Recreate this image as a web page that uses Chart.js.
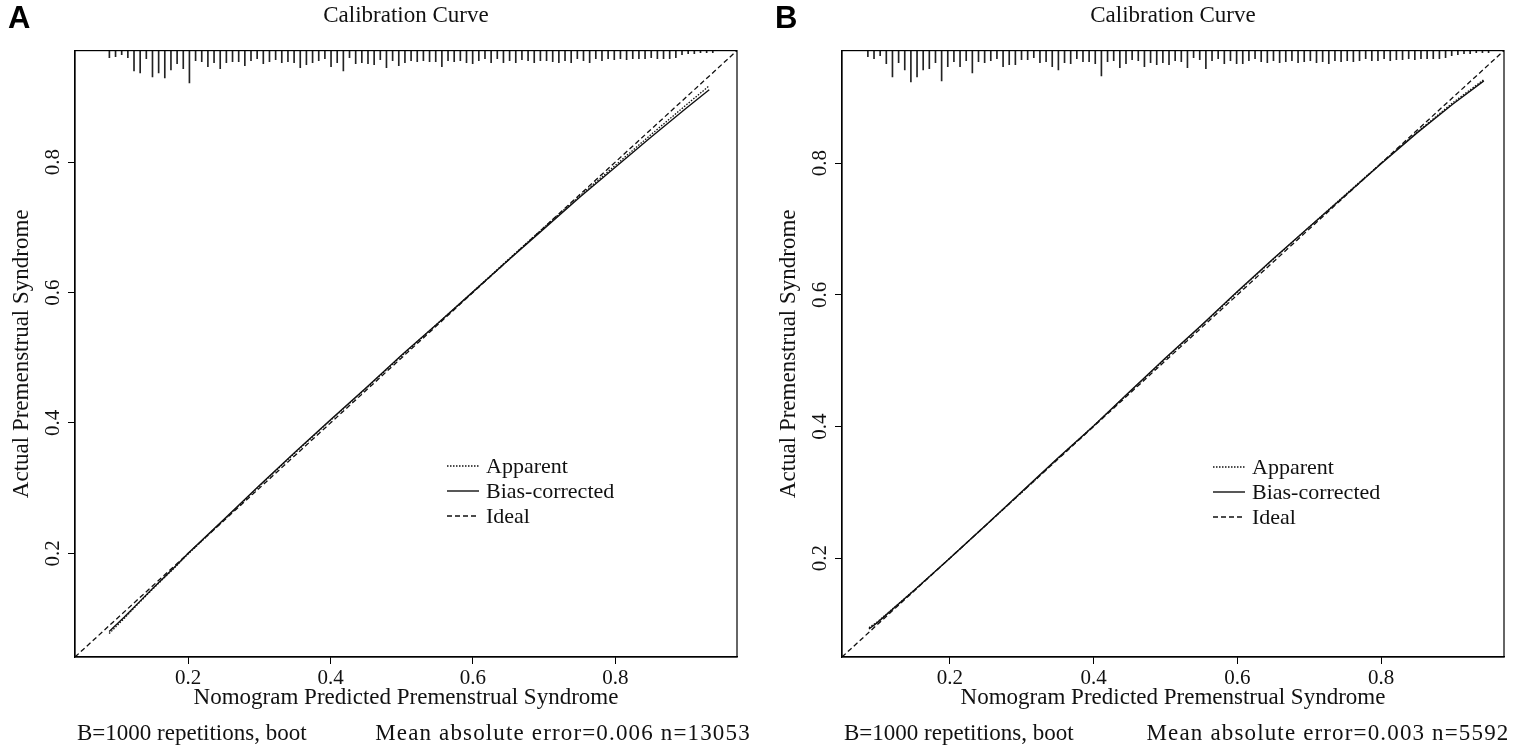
<!DOCTYPE html>
<html>
<head>
<meta charset="utf-8">
<title>Calibration Curve</title>
<script src="https://cdn.jsdelivr.net/npm/chart.js@4.4.1/dist/chart.umd.min.js"></script>
<style>
  body { margin: 0; background: #fff; }
  .row { display: flex; width: 1535px; height: 752px; }
  .panel { position: relative; width: 767px; height: 752px; flex: none; }
  .panel canvas { position: absolute; left: 0; top: 0; }
  .tag { position: absolute; left: 8px; top: 2px; font: bold 31px "Liberation Sans", Arial, sans-serif; line-height: 1; color: #000; }
  .sub { position: absolute; top: 721px; font: 23px "Liberation Serif", serif; line-height: 1; white-space: nowrap; color: #111; }
  .sub.mae { letter-spacing: 1.15px; transform: translateX(-50%); }
  .legend { position: absolute; font: 22px "Liberation Serif", serif; color: #111; }
  .legend div { display: flex; align-items: center; height: 25px; line-height: 25px; }
  .legend svg { width: 32px; height: 4px; margin-right: 7px; }
</style>
</head>
<body>
<div class="row">
  <div class="panel">
    <canvas id="chartA" width="767" height="752"></canvas>
    <div class="tag">A</div>
    <div class="legend" style="left:447px; top:453px">
      <div><svg><line x1="0" y1="2" x2="32" y2="2" stroke="#111" stroke-width="1.3" stroke-dasharray="1.5 1.5"/></svg>Apparent</div>
      <div><svg><line x1="0" y1="2" x2="32" y2="2" stroke="#111" stroke-width="1.4"/></svg>Bias-corrected</div>
      <div><svg><line x1="0" y1="2" x2="32" y2="2" stroke="#111" stroke-width="1.3" stroke-dasharray="5 3"/></svg>Ideal</div>
    </div>
    <div class="sub" style="left:77px">B=1000 repetitions, boot</div>
    <div class="sub mae" style="left:563px">Mean absolute error=0.006 n=13053</div>
  </div>
  <div class="panel">
    <canvas id="chartB" width="767" height="752"></canvas>
    <div class="tag">B</div>
    <div class="legend" style="left:446px; top:454px">
      <div><svg><line x1="0" y1="2" x2="32" y2="2" stroke="#111" stroke-width="1.3" stroke-dasharray="1.5 1.5"/></svg>Apparent</div>
      <div><svg><line x1="0" y1="2" x2="32" y2="2" stroke="#111" stroke-width="1.4"/></svg>Bias-corrected</div>
      <div><svg><line x1="0" y1="2" x2="32" y2="2" stroke="#111" stroke-width="1.3" stroke-dasharray="5 3"/></svg>Ideal</div>
    </div>
    <div class="sub" style="left:77px">B=1000 repetitions, boot</div>
    <div class="sub mae" style="left:561px">Mean absolute error=0.003 n=5592</div>
  </div>
</div>

<script>
// axis ticks and ranges (same range on x and y, ideal line runs corner to corner)
const xTicks = [0.2, 0.4, 0.6, 0.8];
const yTicks = [0.2, 0.4, 0.6, 0.8];
const rangeA = [0.041, 0.971];
const rangeB = [0.050, 0.971];

// panel A curves
const predA     = [0.089, 0.11, 0.13, 0.15, 0.18, 0.20, 0.25, 0.30, 0.35, 0.40, 0.45, 0.50, 0.55, 0.60, 0.65, 0.70, 0.75, 0.80, 0.85, 0.90, 0.932];
const apparentA = [0.077, 0.100, 0.123, 0.145, 0.177, 0.199, 0.251, 0.303, 0.354, 0.404, 0.453, 0.503, 0.552, 0.601, 0.651, 0.700, 0.748, 0.795, 0.842, 0.888, 0.917];
const biasA     = [0.080, 0.102, 0.124, 0.146, 0.178, 0.200, 0.252, 0.304, 0.355, 0.405, 0.454, 0.504, 0.552, 0.601, 0.650, 0.698, 0.746, 0.792, 0.838, 0.883, 0.911];

// panel B curves
const predB     = [0.0875, 0.10, 0.15, 0.20, 0.25, 0.30, 0.35, 0.40, 0.45, 0.50, 0.55, 0.60, 0.65, 0.70, 0.75, 0.80, 0.85, 0.90, 0.943];
const apparentB = [0.0945, 0.104, 0.151, 0.200, 0.250, 0.300, 0.351, 0.401, 0.452, 0.503, 0.553, 0.604, 0.654, 0.703, 0.752, 0.800, 0.847, 0.892, 0.927];
const biasB     = [0.0925, 0.103, 0.151, 0.200, 0.250, 0.301, 0.352, 0.401, 0.453, 0.504, 0.554, 0.605, 0.655, 0.703, 0.751, 0.799, 0.846, 0.890, 0.925];

// rug of predicted values along the top (spike height per bin)
const rugStartA = 0.0893, rugBinA = 0.00865;
const rugA = [7, 6, 4, 7, 20, 22, 8, 26, 22, 27, 19, 13, 18, 32, 10, 11, 16, 12, 18, 12,
  11, 11, 15, 10, 8, 13, 11, 9, 12, 11, 12, 17, 14, 12, 10, 8, 16, 12, 20, 7,
  13, 12, 13, 14, 9, 17, 10, 15, 12, 10, 11, 10, 11, 11, 16, 10, 11, 10, 12, 13,
  10, 8, 12, 8, 12, 10, 12, 9, 10, 12, 10, 10, 11, 12, 10, 12, 8, 10, 12, 8,
  10, 8, 9, 8, 9, 8, 8, 8, 7, 8, 8, 8, 7, 4, 3, 3, 2, 2, 2];
const rugStartB = 0.086, rugBinB = 0.00855;
const rugB = [6, 8, 5, 13, 26, 12, 19, 31, 26, 19, 18, 12, 30, 16, 11, 16, 10, 22, 11, 12,
  10, 8, 16, 14, 14, 9, 9, 7, 12, 11, 16, 19, 12, 13, 8, 11, 11, 13, 25, 11,
  10, 17, 13, 9, 10, 16, 12, 14, 12, 14, 10, 11, 17, 7, 9, 18, 10, 8, 13, 10,
  13, 13, 10, 8, 11, 12, 10, 12, 11, 10, 12, 11, 10, 12, 11, 13, 10, 11, 10, 11,
  10, 8, 10, 10, 8, 10, 9, 9, 8, 9, 8, 8, 8, 8, 7, 5, 4, 3, 3, 2, 2, 2];

Chart.defaults.font.family = '"Liberation Serif", "Times New Roman", serif';
Chart.defaults.color = '#111';

const tickFont = { size: 21 };
const labFont = { size: 23 };

// box round the plot region, like R's box()
const frame = {
  id: 'frame',
  afterDatasetsDraw(chart) {
    const { ctx, chartArea: a } = chart;
    ctx.save();
    ctx.strokeStyle = '#000';
    ctx.lineWidth = 1.2;
    ctx.strokeRect(a.left, a.top, a.right - a.left, a.bottom - a.top);
    ctx.restore();
  }
};

function pts(xs, ys) {
  return xs.map((x, i) => ({ x: x, y: ys[i] }));
}

function makePanel(id, range, pred, apparent, bias, rugStart, rugBin, rug) {
  const rugPts = rug.map((h, i) => ({ x: rugStart + i * rugBin, y: h }));
  new Chart(document.getElementById(id), {
    type: 'scatter',
    data: {
      datasets: [
        { type: 'bar', label: 'rug', data: rugPts, yAxisID: 'yRug',
          backgroundColor: '#222', barThickness: 1, borderWidth: 0 },
        { label: 'Apparent', data: pts(pred, apparent), showLine: true,
          borderColor: '#111', borderWidth: 1.3, borderDash: [1.5, 1.5], pointRadius: 0 },
        { label: 'Bias-corrected', data: pts(pred, bias), showLine: true,
          borderColor: '#111', borderWidth: 1.4, pointRadius: 0 },
        { label: 'Ideal', data: pts(range, range), showLine: true,
          borderColor: '#111', borderWidth: 1.3, borderDash: [5, 3], pointRadius: 0 }
      ]
    },
    options: {
      responsive: false,
      animation: false,
      layout: { padding: { left: 0, right: 30, top: 0, bottom: 40 } },
      plugins: {
        legend: { display: false },
        tooltip: { enabled: false },
        title: {
          display: true, text: 'Calibration Curve', fullSize: false,
          font: { size: 23, weight: 'normal' }, color: '#111',
          padding: { top: 2, bottom: 21 }
        }
      },
      scales: {
        x: {
          type: 'linear', min: range[0], max: range[1], offset: false,
          afterBuildTicks: s => { s.ticks = xTicks.map(v => ({ value: v })); },
          afterFit: s => { s.height = 55; },
          ticks: { font: tickFont, color: '#111', padding: 2, maxRotation: 0,
                   autoSkip: false, callback: v => v.toFixed(1) },
          grid: { offset: false, drawOnChartArea: false, tickLength: 7, color: '#000' },
          border: { color: '#000', width: 1.2 },
          title: { display: true, text: 'Nomogram Predicted Premenstrual Syndrome',
                   font: labFont, color: '#111', padding: { top: 0, bottom: 0 } }
        },
        y: {
          type: 'linear', position: 'left', min: range[0], max: range[1],
          afterBuildTicks: s => { s.ticks = yTicks.map(v => ({ value: v })); },
          afterFit: s => { s.width = 75; },
          ticks: { font: tickFont, color: '#111', padding: 1, minRotation: 90, maxRotation: 90,
                   crossAlign: 'center', autoSkip: false, callback: v => v.toFixed(1) },
          grid: { drawOnChartArea: false, tickLength: 7, color: '#000' },
          border: { color: '#000', width: 1.2 },
          title: { display: true, text: 'Actual Premenstrual Syndrome',
                   font: labFont, color: '#111', padding: { top: 8, bottom: 0 } }
        },
        yRug: { type: 'linear', display: false, reverse: true, min: 0, max: 600 }
      }
    },
    plugins: [frame]
  });
}

makePanel('chartA', rangeA, predA, apparentA, biasA, rugStartA, rugBinA, rugA);
makePanel('chartB', rangeB, predB, apparentB, biasB, rugStartB, rugBinB, rugB);
</script>
</body>
</html>
